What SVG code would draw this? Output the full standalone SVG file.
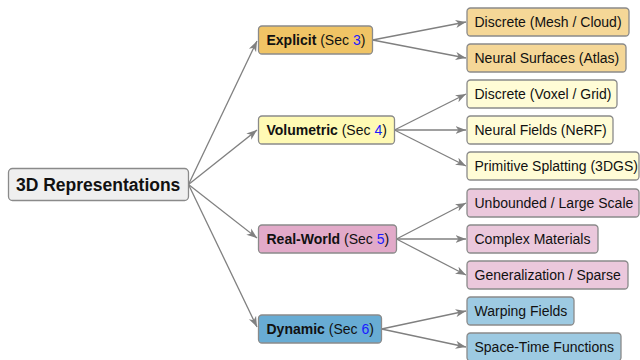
<svg xmlns="http://www.w3.org/2000/svg" width="640" height="360" viewBox="0 0 640 360">
<style>
rect{stroke:#8a8a8a;stroke-width:1.3}
text{font-family:"Liberation Sans",Arial,sans-serif;font-size:14px;fill:#111}
.b{font-weight:bold}
.n{fill:#1a1aff}
.root{font-size:17.5px;font-weight:bold}
.e{fill:#f0c465}.el{fill:#f5d797}
.v{fill:#fffab4}.vl{fill:#fffcd6}
.r{fill:#e2aac9}.rl{fill:#ebc8dc}
.d{fill:#68acd4}.dl{fill:#9dcae2}
#edges line{stroke:#808080;stroke-width:1.3;marker-end:url(#ah)}
</style>
<defs>
<marker id="ah" markerUnits="userSpaceOnUse" markerWidth="11" markerHeight="9" viewBox="0 0 11 9" refX="10.5" refY="4.5" orient="auto">
<path d="M0,0.5 L10.5,4.5 L0,8.5 L3,4.5 z" fill="#808080"/>
</marker>
</defs>
<g id="edges">
<line x1="188.5" y1="184.5" x2="257" y2="41"/>
<line x1="188.5" y1="184.5" x2="257" y2="130"/>
<line x1="188.5" y1="184.5" x2="257" y2="238"/>
<line x1="188.5" y1="184.5" x2="257" y2="327"/>
<line x1="372.5" y1="40" x2="466" y2="22"/>
<line x1="372.5" y1="40" x2="466" y2="58"/>
<line x1="394.5" y1="130" x2="466" y2="94"/>
<line x1="394.5" y1="130" x2="466" y2="130"/>
<line x1="394.5" y1="130" x2="466" y2="166"/>
<line x1="396.5" y1="239" x2="466" y2="203"/>
<line x1="396.5" y1="239" x2="466" y2="239"/>
<line x1="396.5" y1="239" x2="466" y2="275"/>
<line x1="381.5" y1="329" x2="466" y2="311"/>
<line x1="381.5" y1="329" x2="466" y2="347"/>
</g>
<g id="root"><rect x="8.5" y="168.5" width="180" height="32" rx="4" fill="#efefef"/><text class="root" x="16" y="190.5">3D Representations</text></g>
<g id="explicit"><rect class="e" x="258.5" y="26" width="114" height="28" rx="3.5"/><text x="266.5" y="45"><tspan class="b">Explicit</tspan> (Sec <tspan class="n">3</tspan>)</text></g>
<g id="volumetric"><rect class="v" x="258.5" y="116" width="136" height="28" rx="3.5"/><text x="266.5" y="135"><tspan class="b">Volumetric</tspan> (Sec <tspan class="n">4</tspan>)</text></g>
<g id="realworld"><rect class="r" x="258.5" y="225" width="138" height="28" rx="3.5"/><text x="266.5" y="244"><tspan class="b">Real-World</tspan> (Sec <tspan class="n">5</tspan>)</text></g>
<g id="dynamic"><rect class="d" x="258.5" y="315" width="123" height="28" rx="3.5"/><text x="266.5" y="334"><tspan class="b">Dynamic</tspan> (Sec <tspan class="n">6</tspan>)</text></g>
<g id="l1"><rect class="el" x="467" y="8" width="162" height="28" rx="3.5"/><text x="474.5" y="27">Discrete (Mesh / Cloud)</text></g>
<g id="l2"><rect class="el" x="467" y="44" width="159" height="28" rx="3.5"/><text x="474.5" y="63">Neural Surfaces (Atlas)</text></g>
<g id="l3"><rect class="vl" x="467" y="80" width="150" height="28" rx="3.5"/><text x="474.5" y="99">Discrete (Voxel / Grid)</text></g>
<g id="l4"><rect class="vl" x="467" y="116" width="146" height="28" rx="3.5"/><text x="474.5" y="135">Neural Fields (NeRF)</text></g>
<g id="l5"><rect class="vl" x="467" y="152" width="172" height="28" rx="3.5"/><text x="474.5" y="171">Primitive Splatting (3DGS)</text></g>
<g id="l6"><rect class="rl" x="467" y="189" width="172" height="28" rx="3.5"/><text x="474.5" y="208">Unbounded / Large Scale</text></g>
<g id="l7"><rect class="rl" x="467" y="225" width="131" height="28" rx="3.5"/><text x="474.5" y="244">Complex Materials</text></g>
<g id="l8"><rect class="rl" x="467" y="261" width="161" height="28" rx="3.5"/><text x="474.5" y="280">Generalization / Sparse</text></g>
<g id="l9"><rect class="dl" x="467" y="297" width="107" height="28" rx="3.5"/><text x="474.5" y="316">Warping Fields</text></g>
<g id="l10"><rect class="dl" x="467" y="333" width="154" height="28" rx="3.5"/><text x="474.5" y="352">Space-Time Functions</text></g>
</svg>
